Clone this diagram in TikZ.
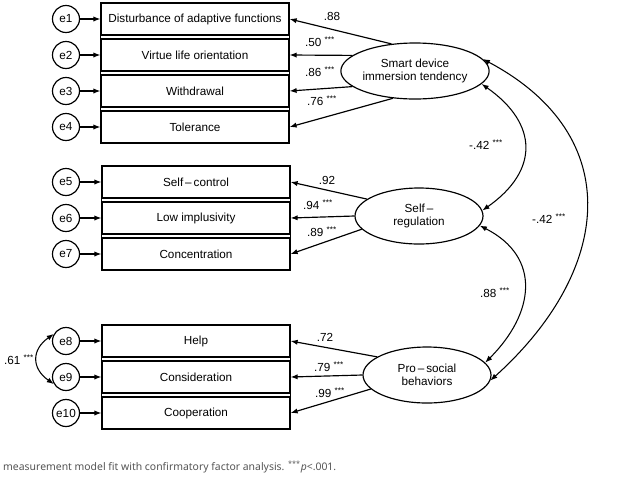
\documentclass[tikz,border=0pt]{standalone}
\usepackage{fontspec}
\setmainfont{Liberation Sans}
\newfontfamily\captionfont{Noto Sans}
\usetikzlibrary{shapes.geometric,arrows.meta,fit}
\definecolor{CaptionGrey}{HTML}{555555}
\tikzset{
    % Base node style
    basenode/.style={
        draw=black,
        line width=1pt,
        inner sep=0pt,
        align=center,
        font=\fontsize{10}{11.5}\selectfont
    },
    % Indicator row
    itembox/.style={
        basenode,
        minimum width=5.64cm,
        minimum height=0.96cm
    },
    % Outer frame of an indicator block
    framebox/.style={
        draw=black,
        line width=1pt,
        inner sep=0pt
    },
    % Error term
    errnode/.style={
        basenode,
        circle,
        minimum size=0.81cm
    },
    % Latent factor
    latentnode/.style={
        basenode,
        ellipse,
        minimum width=3.84cm,
        minimum height=1.68cm
    },
    % Coefficient label
    coefnode/.style={
        inner sep=0pt,
        font=\fontsize{10}{11.5}\selectfont
    },
    % Arrow styles
    myarrow/.style={
        -{Latex[length=6pt,width=4.5pt]},
        line width=1pt
    },
    biarrow/.style={
        {Latex[length=6pt,width=4.5pt]}-{Latex[length=6pt,width=4.5pt]},
        line width=0.9pt
    }
}

\begin{document}
\begin{tikzpicture}[x=0.03cm, y=0.03cm]
    \useasboundingbox (0,0) rectangle (618,-491);

    % Smart device immersion tendency block
    \node[itembox] (d1) at (195,-19) {Disturbance of adaptive functions};
    \node[itembox] (d2) at (195,-55) {Virtue life orientation};
    \node[itembox] (d3) at (195,-91) {Withdrawal};
    \node[itembox] (d4) at (195,-127) {Tolerance};
    \node[framebox, fit=(d1)(d4)] (dframe) {};

    % Self-regulation block
    \node[itembox] (s1) at (196,-182) {Self\,--\,control};
    \node[itembox] (s2) at (196,-218) {Low implusivity};
    \node[itembox] (s3) at (196,-254) {Concentration};
    \node[framebox, fit=(s1)(s3)] (sframe) {};

    % Pro-social behaviors block
    \node[itembox] (p1) at (196,-341) {Help};
    \node[itembox] (p2) at (196,-377) {Consideration};
    \node[itembox] (p3) at (196,-413) {Cooperation};
    \node[framebox, fit=(p1)(p3)] (pframe) {};

    % Error terms
    \node[errnode] (e1) at (66,-19) {e1};
    \node[errnode] (e2) at (66,-55) {e2};
    \node[errnode] (e3) at (66,-91) {e3};
    \node[errnode] (e4) at (66,-127) {e4};
    \node[errnode] (e5) at (66,-182) {e5};
    \node[errnode] (e6) at (66,-218) {e6};
    \node[errnode] (e7) at (66,-254) {e7};
    \node[errnode] (e8) at (66,-341) {e8};
    \node[errnode] (e9) at (66,-377) {e9};
    \node[errnode] (e10) at (66,-413) {e10};
    \draw[myarrow] (e1) -- (d1);
    \draw[myarrow] (e2) -- (d2);
    \draw[myarrow] (e3) -- (d3);
    \draw[myarrow] (e4) -- (d4);
    \draw[myarrow] (e5) -- (s1);
    \draw[myarrow] (e6) -- (s2);
    \draw[myarrow] (e7) -- (s3);
    \draw[myarrow] (e8) -- (p1);
    \draw[myarrow] (e9) -- (p2);
    \draw[myarrow] (e10) -- (p3);
    \draw[biarrow] (e8.150) to[out=215, in=145, looseness=1.4] (e9.210);
    \node[coefnode] (c89) at (19,-360) {.61 \textsuperscript{***}};

    % Latent factors
    \node[latentnode] (smart) at (415,-71) {Smart device\\immersion tendency};
    \node[latentnode] (selfreg) at (419,-216) {Self\,--\\regulation};
    \node[latentnode] (prosoc) at (427,-375) {Pro\,--\,social\\behaviors};

    % Factor loadings
    \draw[myarrow] (smart.131) -- (d1.east);
    \draw[myarrow] (smart.166) -- (d2.east);
    \draw[myarrow] (smart.194) -- (d3.east);
    \draw[myarrow] (smart.231) -- (d4.east);
    \draw[myarrow] (selfreg.162) -- (s1.east);
    \draw[myarrow] (selfreg.180) -- (s2.east);
    \draw[myarrow] (selfreg.193) -- (s3.east);
    \draw[myarrow] (prosoc.160) -- (p1.east);
    \draw[myarrow] (prosoc.180) -- (p2.east);
    \draw[myarrow] (prosoc.194) -- (p3.east);
    \node[coefnode] at (332,-16) {.88};
    \node[coefnode] at (320,-42) {.50 \textsuperscript{***}};
    \node[coefnode] at (320,-72) {.86 \textsuperscript{***}};
    \node[coefnode] at (322,-101) {.76 \textsuperscript{***}};
    \node[coefnode] at (327,-180) {.92};
    \node[coefnode] at (318,-205) {.94 \textsuperscript{***}};
    \node[coefnode] at (322,-232) {.89 \textsuperscript{***}};
    \node[coefnode] at (325,-337) {.72};
    \node[coefnode] at (329,-367) {.79 \textsuperscript{***}};
    \node[coefnode] at (330,-393) {.99 \textsuperscript{***}};

    % Factor correlations
    \draw[biarrow] (smart.-11) to[out=-35, in=35, looseness=1.4] (selfreg.5);
    \draw[biarrow] (smart.10) to[out=-28, in=42, looseness=1.3] (prosoc.-5);
    \draw[biarrow] (selfreg.-9) to[out=-27, in=45, looseness=1.3] (prosoc.12);
    \node[coefnode] at (486,-145) {-.42 \textsuperscript{***}};
    \node[coefnode] at (549,-219) {-.42 \textsuperscript{***}};
    \node[coefnode] at (495,-293) {.88 \textsuperscript{***}};

    % Caption
    \node[anchor=west, inner sep=0pt, text=CaptionGrey, font=\captionfont\fontsize{8.9}{11}\selectfont] (caption) at (3,-467)
        {measurement model fit with confirmatory factor analysis. \textsuperscript{***}\textit{p}<.001.};
\end{tikzpicture}
\end{document}
